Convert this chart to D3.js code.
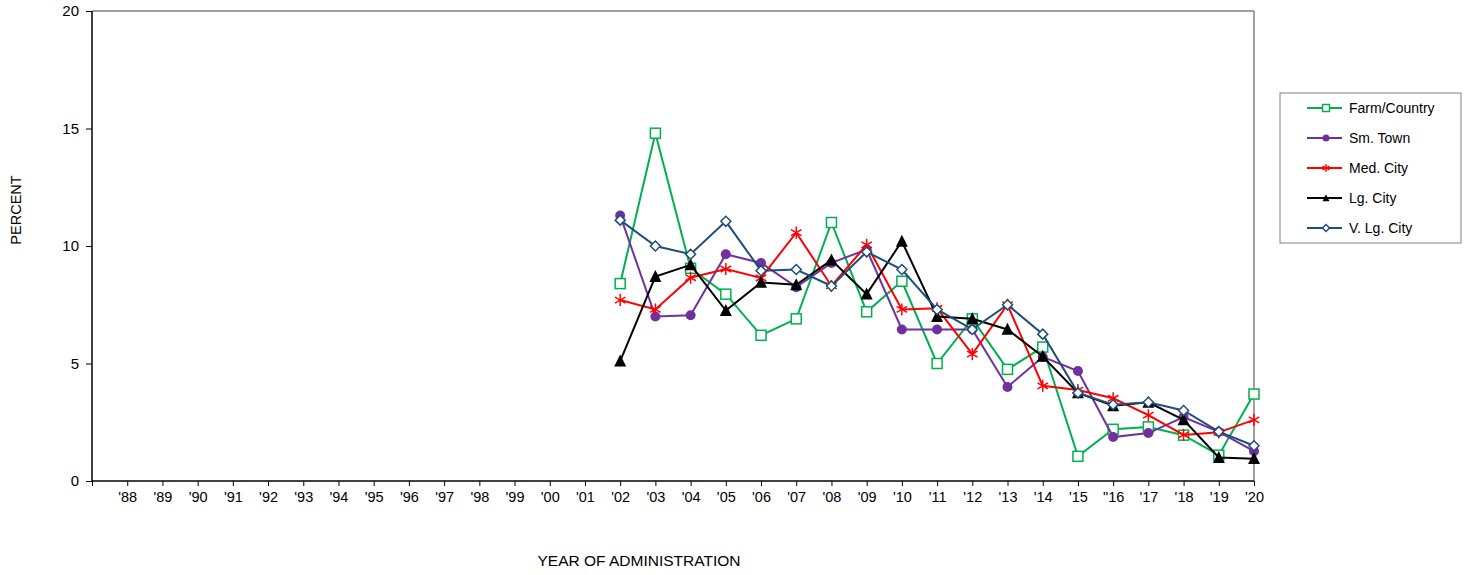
<!DOCTYPE html>
<html>
<head>
<meta charset="utf-8">
<script src="https://cdn.jsdelivr.net/npm/d3@7"></script>
<style>
  body { margin: 0; background: #fff; }
  text { font-family: "Liberation Sans", Arial, sans-serif; fill: #000; }
</style>
</head>
<body>
<div id="chart"></div>
<script>
// categories (first slot is an empty one, like the original sheet)
var years = ["'88","'89","'90","'91","'92","'93","'94","'95","'96","'97","'98","'99","'00","'01",
             "'02","'03","'04","'05","'06","'07","'08","'09","'10","'11","'12","'13","'14","'15",
             "\"16","'17","'18","'19","'20"];

var dataYears = ["'02","'03","'04","'05","'06","'07","'08","'09","'10","'11","'12","'13","'14","'15",
                 "\"16","'17","'18","'19","'20"];

var farmCountry = [8.4,14.8,9.05,7.95,6.2,6.9,11.0,7.2,8.5,5.0,6.9,4.75,5.7,1.05,2.2,2.3,1.95,1.1,3.7];
var smTown      = [11.3,7.0,7.05,9.65,9.28,8.25,9.28,9.85,6.45,6.45,6.45,4.0,5.28,4.68,1.87,2.04,2.72,2.09,1.27];
var medCity     = [7.7,7.3,8.65,9.02,8.64,10.57,8.3,10.05,7.3,7.35,5.4,7.5,4.05,3.87,3.52,2.8,1.96,2.07,2.6];
var lgCity      = [5.1,8.7,9.2,7.25,8.45,8.35,9.4,7.95,10.2,7.0,6.9,6.45,5.3,3.75,3.2,3.35,2.6,1.0,0.95];
var vLgCity     = [11.1,10.0,9.65,11.05,8.95,9.0,8.3,9.75,9.0,7.3,6.45,7.5,6.25,3.75,3.25,3.35,3.0,2.1,1.5];

var yTicks = [0, 5, 10, 15, 20];

var series = [
  {name: "Farm/Country", values: farmCountry, color: "#00b050", marker: "square"},
  {name: "Sm. Town",     values: smTown,      color: "#7030a0", marker: "circle"},
  {name: "Med. City",    values: medCity,     color: "#ff0000", marker: "star"},
  {name: "Lg. City",     values: lgCity,      color: "#000000", marker: "triangle"},
  {name: "V. Lg. City",  values: vLgCity,     color: "#1f4e79", marker: "diamond"}
];

var W = 1465, H = 575;
var margin = {top: 11, left: 92, right: 211, bottom: 94};
var width = W - margin.left - margin.right,
    height = H - margin.top - margin.bottom;

var svg = d3.select("#chart").append("svg")
    .attr("width", W)
    .attr("height", H);

var g = svg.append("g")
    .attr("transform", "translate(" + margin.left + "," + margin.top + ")");

// slot 0 is blank, categories at 1..33
var x = d3.scalePoint()
    .domain([""].concat(years))
    .range([0, width]);

var y = d3.scaleLinear()
    .domain([0, 20])
    .range([height, 0]);

// plot frame: top/right grey
g.append("line").attr("x1", 0).attr("x2", width).attr("y1", 0).attr("y2", 0)
    .attr("stroke", "#808080").attr("stroke-width", 1.5);
g.append("line").attr("x1", width).attr("x2", width).attr("y1", 0).attr("y2", height)
    .attr("stroke", "#808080").attr("stroke-width", 1.5);

// y axis
var yAxis = g.append("g")
    .call(d3.axisLeft(y).tickValues(yTicks).tickSize(6).tickPadding(7));
yAxis.select(".domain").attr("stroke", "#000").attr("stroke-width", 1.5)
    .attr("d", "M0,0V" + height);
yAxis.selectAll("text").style("font-size", "15px");

// x axis
var xAxis = g.append("g")
    .attr("transform", "translate(0," + height + ")")
    .call(d3.axisBottom(x).tickSize(5).tickPadding(6));
xAxis.select(".domain").attr("stroke", "#000").attr("stroke-width", 1.5)
    .attr("d", "M0,0H" + width);
xAxis.selectAll("text").style("font-size", "14.5px");

svg.append("text")
    .attr("transform", "translate(21,210) rotate(-90)")
    .attr("text-anchor", "middle")
    .style("font-size", "14.5px")
    .text("PERCENT");

svg.append("text")
    .attr("x", 639).attr("y", 566)
    .attr("text-anchor", "middle")
    .style("font-size", "15.5px")
    .text("YEAR OF ADMINISTRATION");

function drawMarker(sel, type, color, s) {
  if (type === "square") {
    sel.append("rect").attr("x", -s).attr("y", -s).attr("width", 2 * s).attr("height", 2 * s)
      .attr("fill", "#fff").attr("stroke", color).attr("stroke-width", 1.5);
  } else if (type === "circle") {
    sel.append("circle").attr("r", s).attr("fill", color);
  } else if (type === "star") {
    [0, 60, 120].forEach(function(a) {
      sel.append("line").attr("x1", 0).attr("y1", -s * 1.1).attr("x2", 0).attr("y2", s * 1.1)
        .attr("transform", "rotate(" + a + ")")
        .attr("stroke", color).attr("stroke-width", 1.5);
    });
  } else if (type === "triangle") {
    sel.append("path").attr("d", "M0," + (-s * 1.1) + "L" + s + "," + s * 0.9 + "L" + (-s) + "," + s * 0.9 + "Z")
      .attr("fill", color);
  } else if (type === "diamond") {
    sel.append("path").attr("d", "M0," + (-s) + "L" + s + ",0L0," + s + "L" + (-s) + ",0Z")
      .attr("fill", "#fff").attr("stroke", color).attr("stroke-width", 1.5);
  }
}

var line = d3.line()
    .x(function(d, i) { return x(dataYears[i]); })
    .y(function(d) { return y(d); });

var sizes = {square: 5, circle: 5, star: 5.5, triangle: 6, diamond: 5};

series.forEach(function(s) {
  var sg = g.append("g");
  sg.append("path")
      .datum(s.values)
      .attr("fill", "none")
      .attr("stroke", s.color)
      .attr("stroke-width", 2)
      .attr("d", line);
  s.values.forEach(function(v, i) {
    var m = sg.append("g")
        .attr("transform", "translate(" + x(dataYears[i]) + "," + y(v) + ")");
    drawMarker(m, s.marker, s.color, sizes[s.marker]);
  });
});

// legend
var legend = svg.append("g").attr("transform", "translate(1280,93)");
legend.append("rect")
    .attr("width", 181).attr("height", 150)
    .attr("fill", "#fff").attr("stroke", "#808080").attr("stroke-width", 1);

series.forEach(function(s, i) {
  var row = legend.append("g").attr("transform", "translate(0," + (15 + i * 30) + ")");
  row.append("line").attr("x1", 27).attr("x2", 62)
      .attr("stroke", s.color).attr("stroke-width", 2);
  var m = row.append("g").attr("transform", "translate(46,0)");
  drawMarker(m, s.marker, s.color, 3.5);
  row.append("text").attr("x", 69).attr("y", 5)
      .style("font-size", "14px")
      .text(s.name);
});
</script>
</body>
</html>
